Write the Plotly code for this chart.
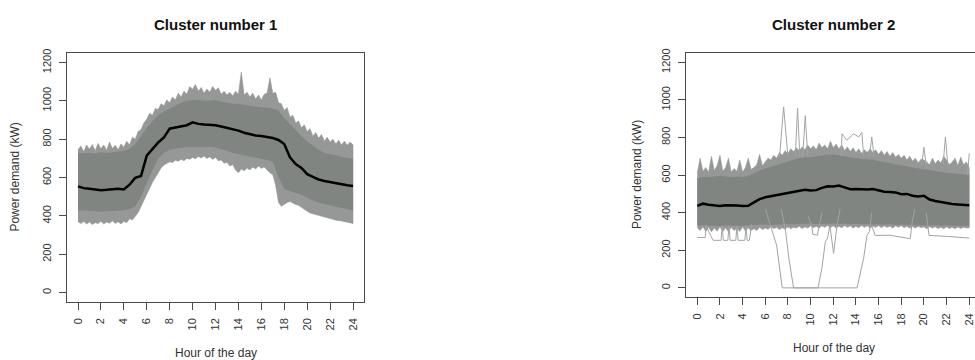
import numpy as np
import plotly.graph_objects as go

# ---------------- data ----------------
HOURS_H = np.arange(0, 24.01, 0.5)      # half-hour grid (49)
HOURS_Q = np.arange(0, 24.01, 0.25)     # quarter-hour grid (97)
X_TICKS = list(range(0, 25, 2))
Y_TICKS = list(range(0, 1201, 200))

# Cluster 1 -----------------------------------------------------
mean1 = [554, 545, 542, 538, 534, 536, 540, 542, 538, 563, 599, 608, 714, 749, 783, 809,
         855, 861, 866, 873, 888, 880, 877, 876, 873, 866, 860, 855, 845, 834, 826, 820,
         817, 812, 806, 796, 775, 705, 670, 650, 618, 603, 590, 582, 576, 569, 566, 560, 556]
core1_upper = [725, 728, 730, 726, 732, 728, 732, 735, 738, 750, 775, 815, 860, 895, 925, 945,
               960, 975, 990, 1000, 1005, 1005, 1000, 1000, 1005, 995, 990, 985, 985, 980, 975, 970,
               965, 965, 960, 950, 910, 880, 845, 815, 790, 765, 745, 730, 722, 715, 708, 702, 698]
core1_lower = [430, 428, 425, 425, 422, 425, 426, 428, 430, 435, 450, 500, 570, 640, 700, 730,
               745, 752, 755, 758, 760, 760, 760, 760, 757, 750, 740, 728, 718, 712, 708, 702,
               698, 692, 682, 600, 540, 530, 520, 510, 495, 480, 470, 462, 455, 448, 440, 435, 430]
outer1_upper = [745, 765, 735, 770, 748, 772, 740, 778, 750, 770, 742, 785, 752, 768, 745, 775,
                758, 790, 770, 810, 800, 840, 850, 885, 905, 935, 925, 960, 955, 985, 975, 1005,
                990, 1020, 1005, 1040, 1020, 1050, 1035, 1075, 1060, 1085, 1050, 1070,
                1040, 1062, 1045, 1075, 1055, 1068, 1035, 1050, 1030, 1045, 1025, 1050,
                1035, 1150, 1030, 1045, 1020, 1040, 1010, 1030, 1005, 1035, 1040, 1120,
                1040, 1045, 990, 985, 950, 965, 915, 925, 885, 895, 860, 875,
                840, 855, 815, 835, 805, 825, 790, 810, 785, 800, 775, 795, 770, 790, 768, 785, 770]
outer1_lower = [370, 360, 372, 358, 368, 355, 365, 360, 372, 358, 368, 362, 375, 360, 370, 358,
                372, 365, 385, 380, 398, 418, 452, 480, 512, 545, 575, 600, 628, 650, 665, 672,
                682, 678, 690, 685, 695, 688, 700, 695, 705, 698, 710, 702, 712, 700, 708, 695,
                705, 688, 692, 675, 680, 660, 668, 640, 625, 645, 635, 650, 640, 655, 645, 660,
                648, 655, 640, 625, 615, 560, 470, 450, 462, 470, 475, 468, 460, 455, 445, 435,
                425, 415, 410, 405, 402, 398, 392, 388, 386, 382, 378, 375, 374, 370, 366, 364, 360]

# Cluster 2 -----------------------------------------------------
mean2 = [436, 448, 442, 440, 436, 440, 437, 438, 436, 437, 455, 472, 482, 488, 495, 502,
         508, 510, 516, 522, 518, 520, 532, 541, 540, 545, 535, 525, 526, 524, 524, 526,
         518, 512, 510, 508, 498, 500, 490, 486, 490, 470, 462, 456, 450, 446, 444, 442, 440]
core2_upper = [585, 590, 590, 593, 595, 593, 590, 593, 590, 595, 610, 625, 635, 645, 655, 665,
               675, 682, 690, 695, 695, 700, 705, 710, 710, 705, 700, 693, 690, 687, 685, 682,
               675, 670, 665, 660, 653, 647, 640, 635, 632, 625, 620, 615, 613, 610, 607, 605, 602]
core2_lower = [330, 333, 329, 331, 328, 332, 330, 329, 331, 330, 333, 335, 337, 335, 338, 337,
               340, 338, 341, 340, 342, 340, 343, 341, 343, 340, 342, 339, 341, 338, 340, 337,
               339, 336, 338, 335, 337, 334, 336, 333, 335, 332, 334, 331, 333, 330, 332, 330, 331]
outer2_upper = [610, 690, 620, 640, 615, 700, 625, 650, 705, 620, 640, 690, 615, 635, 620, 680,
                615, 640, 690, 630, 640, 655, 710, 650, 670, 690, 680, 705, 690, 720, 705, 730,
                715, 740, 725, 745, 730, 750, 735, 760, 740, 755, 735, 770, 745, 760, 740, 780,
                745, 765, 740, 760, 730, 750, 725, 745, 720, 740, 715, 735, 720, 740, 720, 735,
                710, 730, 705, 725, 700, 720, 695, 710, 690, 705, 680, 700, 675, 690, 665, 685,
                680, 670, 655, 690, 660, 680, 665, 700, 680, 655, 670, 690, 650, 695, 655, 670, 640]
outer2_lower = [320, 305, 325, 300, 322, 298, 318, 302, 325, 300, 320, 298, 322, 305, 318, 300,
                325, 302, 320, 305, 315, 305, 322, 310, 318, 312, 325, 315, 322, 310, 320, 312,
                325, 315, 322, 318, 328, 316, 325, 318, 330, 320, 328, 318, 330, 322, 332, 320,
                330, 318, 328, 320, 332, 322, 330, 318, 328, 320, 332, 322, 330, 318, 328, 322,
                332, 320, 330, 322, 328, 318, 330, 322, 332, 320, 328, 318, 326, 318, 328, 320,
                325, 315, 326, 318, 325, 316, 322, 315, 325, 316, 322, 315, 324, 316, 322, 318, 320]

# individual outlying profiles of cluster 2: (hours, kW)
out2_dip_a_h = [6.0, 6.5, 7.0, 7.5, 10.65, 11.0, 11.3, 11.5, 11.7, 12.03, 12.33, 12.6]
out2_dip_a_v = [420, 325, 228, 0, 0, 105, 245, 265, 333, 183, 330, 420]
out2_dip_b_h = [7.4, 7.77, 8.1, 8.5, 14.1, 14.68, 14.98, 15.2, 15.4]
out2_dip_b_v = [420, 314, 150, 0, 0, 157, 280, 300, 400]
out2_dip_c_h = [9.8, 10.1, 10.2, 10.6, 10.75, 11.0]
out2_dip_c_v = [380, 330, 285, 280, 330, 400]
out2_low_a_h = [0.0, 0.7, 0.8, 1.0, 1.4, 2.1, 2.2, 2.3, 2.7, 2.8, 2.9, 3.4, 3.5, 3.6, 4.2, 4.3, 4.4, 4.6, 4.8]
out2_low_a_v = [268, 268, 335, 300, 253, 253, 330, 253, 253, 330, 253, 253, 330, 253, 253, 330, 253, 253, 340]
out2_low_b_h = [15.4, 15.7, 17.0, 18.0, 18.5, 18.8, 18.95, 19.2]
out2_low_b_v = [330, 279, 280, 272, 265, 262, 345, 420]
out2_low_c_h = [20.2, 20.35, 20.45, 22.0, 23.0, 24.0]
out2_low_c_v = [400, 330, 279, 274, 270, 265]
out2_peak_h = [[7.25, 7.62, 8.0], [8.65, 8.85, 9.05], [9.3, 9.53, 9.75], [15.2, 15.4, 15.6],
               [19.8, 20.0, 20.2], [21.7, 21.9, 22.1], [23.85, 24.0],
               [12.7, 12.77, 13.2, 13.5, 13.8, 14.24, 14.53, 14.68]]
out2_peak_v = [[690, 963, 700], [700, 956, 700], [700, 916, 700], [700, 803, 700],
               [650, 748, 650], [660, 803, 660], [600, 715],
               [700, 820, 785, 800, 820, 803, 827, 700]]

# ---------------- styling ----------------
W, H = 975, 360
FONT = "Liberation Sans, Arial, Helvetica, sans-serif"
CORE = "#818582"
FRINGE = "#959896"
FRINGE_EDGE = "#959896"
OUTLIER = "#a2a4a2"
AXIS = "#4a4a4a"
TXT = "#333333"


def px_x(p):
    return p / W


def px_y(p):
    return 1 - p / H


fig = go.Figure()


def band(xs, upper, lower, color, line_color, xa, ya, width=0.6):
    xs = list(xs)
    fig.add_trace(go.Scatter(
        x=xs + xs[::-1], y=list(upper) + list(lower)[::-1],
        fill="toself", fillcolor=color, mode="lines",
        line=dict(color=line_color, width=width),
        xaxis=xa, yaxis=ya, hoverinfo="skip", showlegend=False))


def line(xs, ys, color, width, xa, ya):
    fig.add_trace(go.Scatter(x=list(xs), y=list(ys), mode="lines",
                             line=dict(color=color, width=width),
                             xaxis=xa, yaxis=ya, hoverinfo="skip", showlegend=False))


# panel 1
band(HOURS_Q, outer1_upper, outer1_lower, FRINGE, FRINGE_EDGE, "x", "y")
band(HOURS_H, core1_upper, core1_lower, CORE, CORE, "x", "y", width=0)
line(HOURS_H, mean1, "black", 2.5, "x", "y")

# panel 2
band(HOURS_Q, outer2_upper, outer2_lower, FRINGE, FRINGE_EDGE, "x2", "y2")
band(HOURS_H, core2_upper, core2_lower, CORE, CORE, "x2", "y2", width=0)
for hh, vv in [(out2_dip_a_h, out2_dip_a_v), (out2_dip_b_h, out2_dip_b_v),
               (out2_dip_c_h, out2_dip_c_v), (out2_low_a_h, out2_low_a_v),
               (out2_low_b_h, out2_low_b_v), (out2_low_c_h, out2_low_c_v)]:
    line(hh, vv, OUTLIER, 1, "x2", "y2")
for hh, vv in zip(out2_peak_h, out2_peak_v):
    line(hh, vv, OUTLIER, 1, "x2", "y2")
line(HOURS_H, mean2, "black", 2.5, "x2", "y2")

axis_common = dict(showgrid=False, zeroline=False, showline=True, linecolor=AXIS, linewidth=1,
                   ticks="outside", ticklen=7, tickcolor=AXIS, tickwidth=1,
                   tickfont=dict(family=FONT, size=11, color=TXT), tickangle=-90,
                   ticklabelstandoff=4)

fig.update_layout(
    width=W, height=H, margin=dict(l=0, r=0, t=0, b=0),
    paper_bgcolor="white", plot_bgcolor="white", showlegend=False,
    xaxis=dict(axis_common, domain=[px_x(67), px_x(364)], range=[-0.96, 24.96],
               tickvals=X_TICKS, mirror=True, anchor="y"),
    yaxis=dict(axis_common, domain=[px_y(301), px_y(49)], range=[-48, 1248],
               tickvals=Y_TICKS, mirror=True, anchor="x"),
    xaxis2=dict(axis_common, domain=[px_x(686.4), 1.0], range=[-0.96, 24.51],
                tickvals=X_TICKS, mirror=True, anchor="y2"),
    yaxis2=dict(axis_common, domain=[px_y(296), px_y(49)], range=[-48, 1248],
                tickvals=Y_TICKS, mirror=False, anchor="x2"),
)

annots = [
    ("Cluster number 1", 215.5, 20, 0, 15, True),
    ("Cluster number 2", 833, 20, 0, 15, True),
    ("Hour of the day", 215.5, 353, 0, 12, False),
    ("Hour of the day", 834, 348, 0, 12, False),
    ("Power demand (kW)", 15, 175, -90, 12, False),
    ("Power demand (kW)", 637, 172.5, -90, 12, False),
]
for text, x, y, ang, size, bold in annots:
    fig.add_annotation(
        text=f"<b>{text}</b>" if bold else text, x=px_x(x), y=px_y(y),
        xref="paper", yref="paper", xanchor="center", yanchor="middle",
        showarrow=False, textangle=ang,
        font=dict(family=FONT, size=size, color="#111111" if bold else TXT))

fig.write_html("out.html", config={"displayModeBar": False},
               post_script="document.body.style.margin='0';document.body.style.padding='0';")
